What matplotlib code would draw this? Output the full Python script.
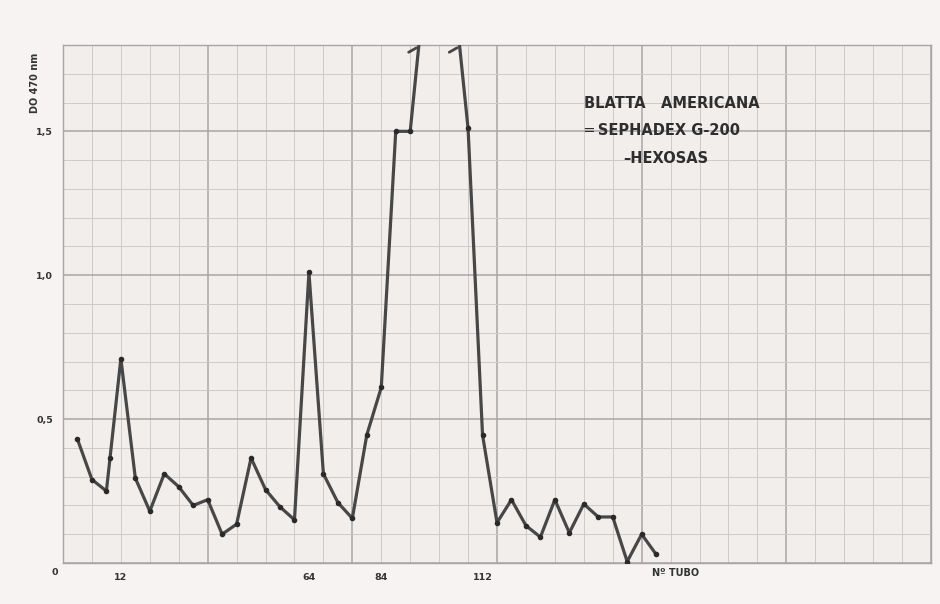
import numpy as np
import matplotlib.pyplot as plt

# tube number and optical density (DO 470 nm)
tubes_a = [0, 4, 8, 9, 12, 16, 20, 24, 28, 32, 36, 40, 44, 48, 52, 56, 60,
           64, 68, 72, 76, 80, 84, 88, 92, 96]
od_a = [0.43, 0.29, 0.25, 0.365, 0.71, 0.295, 0.18, 0.31, 0.265, 0.20, 0.22,
        0.10, 0.135, 0.365, 0.255, 0.195, 0.15, 1.01, 0.31, 0.21, 0.155,
        0.445, 0.61, 1.50, 1.50, 2.0]
# second branch after the off-scale peak
tubes_b = [104, 108, 112, 116, 120, 124, 128, 132, 136, 140, 144, 148, 152,
           156, 160]
od_b = [2.0, 1.51, 0.445, 0.14, 0.22, 0.13, 0.09, 0.22, 0.105, 0.205, 0.16,
        0.16, 0.005, 0.10, 0.03]

x_labels = [12, 64, 84, 112]
y_labels = [0.5, 1.0, 1.5]

xmin, xmax = -4, 236
ymin, ymax = 0, 1.8

paper = '#f2eeec'
ink = '#474747'

fig = plt.figure(figsize=(9.4, 6.04), dpi=100, facecolor='#f6f3f2')
ax = fig.add_axes([63/940, 1 - 563/604, (931-63)/940, (563-45)/604])
ax.set_facecolor(paper)

# graph paper
for gx in np.arange(xmin, xmax + 0.1, 8):
    major = (gx - xmin) % 40 == 0
    ax.axvline(gx, color='#a9a5a5' if major else '#cfcaca',
               lw=1.1 if major else 0.7, zorder=1)
for gy in np.arange(ymin, ymax + 0.01, 0.1):
    major = abs(gy / 0.5 - round(gy / 0.5)) < 1e-6
    ax.axhline(gy, color='#a9a5a5' if major else '#cfcaca',
               lw=1.1 if major else 0.7, zorder=1)

for t, v in [(tubes_a, od_a), (tubes_b, od_b)]:
    ax.plot(t, v, color=ink, lw=2.3, solid_capstyle='round', zorder=3)
    ax.plot(t, v, 'o', color='#2a2a2a', ms=3.0, zorder=4)

# little hooks where the peak leaves the paper
for t, v in [(tubes_a[-2:], od_a[-2:]), (tubes_b[:2], od_b[:2])]:
    xc = t[0] + (ymax - v[0]) / (v[1] - v[0]) * (t[1] - t[0])
    ax.annotate('', xy=(xc, ymax - 0.005), xytext=(xc - 3.5, ymax - 0.03),
                arrowprops=dict(arrowstyle='-', color=ink, lw=2.0),
                annotation_clip=False, zorder=5)

ax.set_xlim(xmin, xmax)
ax.set_ylim(ymin, ymax)
for s in ax.spines.values():
    s.set_color('#a9a5a5')
    s.set_linewidth(1.0)

ax.set_xticks(x_labels)
ax.set_xticklabels([str(v) for v in x_labels])
ax.set_yticks(y_labels)
ax.set_yticklabels([f'{v:.1f}'.replace('.', ',') for v in y_labels])
ax.tick_params(length=0, labelsize=6.8, labelcolor='#333333', pad=7)
for lab in ax.get_xticklabels() + ax.get_yticklabels():
    lab.set_fontweight('bold')

ax.text(-0.01, -0.019, '0', transform=ax.transAxes, fontsize=6.8,
        fontweight='bold', color='#333333', ha='center', va='center')
ax.text(0.706, -0.019, 'Nº TUBO', transform=ax.transAxes, fontsize=7,
        fontweight='bold', color='#333333', ha='center', va='center')
fig.text(35/940, 1 - 83/604, 'DO 470 nm', rotation=90, fontsize=7,
         fontweight='bold', color='#333333', ha='center', va='center')

ax.text(0.6, 0.887, 'BLATTA   AMERICANA', transform=ax.transAxes,
        fontsize=10.5, fontweight='bold', color='#2e2e2e', ha='left', va='center')
ax.text(0.6, 0.835, '═ SEPHADEX G-200', transform=ax.transAxes,
        fontsize=10.5, fontweight='bold', color='#2e2e2e', ha='left', va='center')
ax.text(0.645, 0.781, '–HEXOSAS', transform=ax.transAxes,
        fontsize=10.5, fontweight='bold', color='#2e2e2e', ha='left', va='center')

fig.savefig('out.png', dpi=100, facecolor=fig.get_facecolor())
